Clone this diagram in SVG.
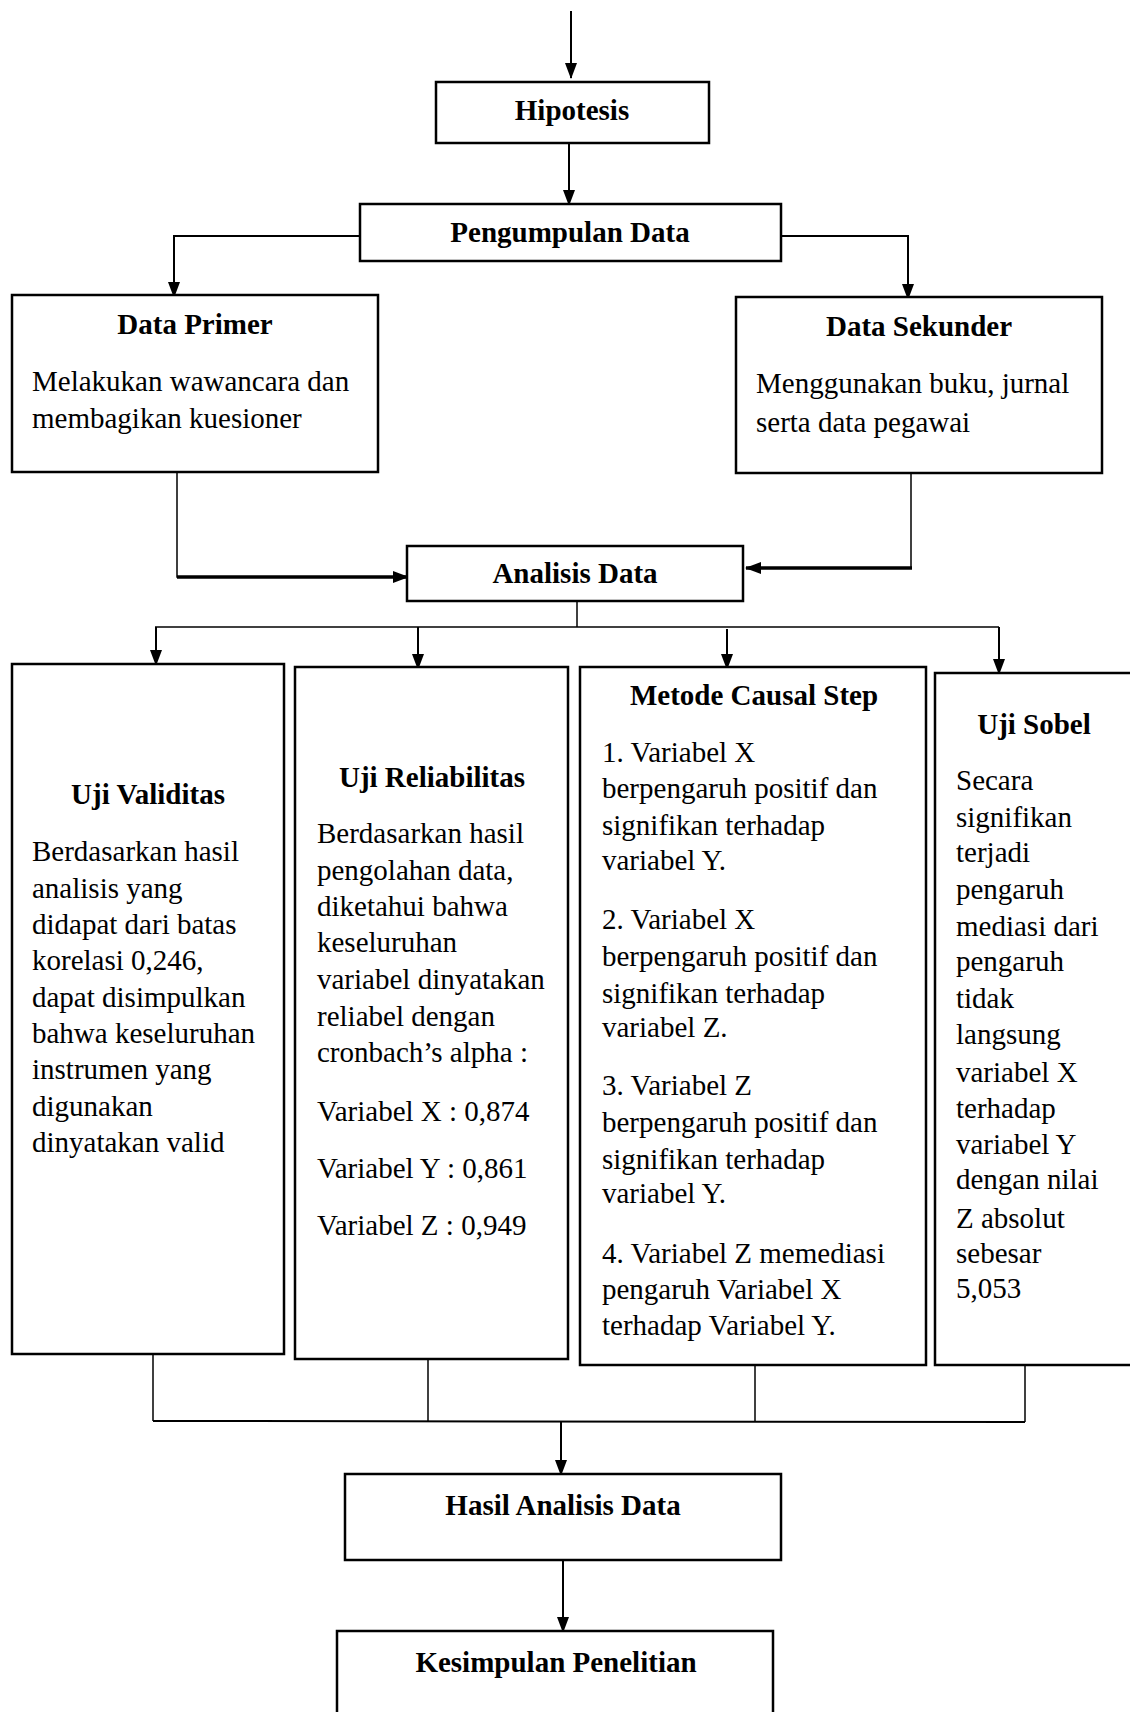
<svg xmlns="http://www.w3.org/2000/svg" width="1130" height="1712" viewBox="0 0 1130 1712">
<style>
.box{fill:#fff;stroke:#000;stroke-width:2.5}
.h{font-family:"Liberation Serif","Times New Roman",serif;font-size:29px;font-weight:bold;text-anchor:middle;fill:#000}
.t{font-family:"Liberation Serif","Times New Roman",serif;font-size:29px;fill:#000}
.ln{fill:none;stroke:#000;stroke-width:1.5}
.ar{fill:none;stroke:#000;stroke-width:2;marker-end:url(#ah)}
.thick{fill:none;stroke:#000;stroke-width:3.5;marker-end:url(#ah)}
</style>
<defs>
<marker id="ah" markerUnits="userSpaceOnUse" markerWidth="16" markerHeight="12" refX="15" refY="6" orient="auto">
<path d="M0,0 L16,6 L0,12 z" fill="#000"/>
</marker>
</defs>
<rect width="1130" height="1712" fill="#fff"/>
<g id="connectors">
<line class="ar" x1="571" y1="11" x2="571" y2="78"/>
<line class="ar" x1="569" y1="143" x2="569" y2="205"/>
<polyline class="ar" points="360,236 174,236 174,297"/>
<polyline class="ar" points="781,236 908,236 908,299"/>
<polyline class="ln" points="177,472 177,577 190,577"/>
<line class="thick" x1="177" y1="577" x2="408" y2="577"/>
<polyline class="ln" points="911,473 911,568"/>
<line class="thick" x1="912" y1="568" x2="746" y2="568"/>
<line class="ln" x1="577" y1="601" x2="577" y2="627"/>
<line class="ln" x1="155" y1="627" x2="999" y2="627"/>
<line class="ar" x1="156" y1="627" x2="156" y2="665"/>
<line class="ar" x1="418" y1="627" x2="418" y2="669"/>
<line class="ar" x1="727" y1="629" x2="727" y2="669"/>
<line class="ar" x1="999" y1="627" x2="999" y2="674"/>
<line class="ln" x1="153" y1="1354" x2="153" y2="1421"/>
<line class="ln" x1="428" y1="1359" x2="428" y2="1421"/>
<line class="ln" x1="755" y1="1365" x2="755" y2="1422"/>
<line class="ln" x1="1025" y1="1365" x2="1025" y2="1422"/>
<line x1="153" y1="1421" x2="1025" y2="1422" stroke="#000" stroke-width="2"/>
<line class="ar" x1="561" y1="1421" x2="561" y2="1475"/>
<line class="ar" x1="563" y1="1561" x2="563" y2="1632"/>
</g>
<g id="hipotesis">
<rect class="box" x="436" y="82" width="273" height="61"/>
<text class="h" x="572" y="120">Hipotesis</text>
</g>
<g id="pengumpulan">
<rect class="box" x="360" y="204" width="421" height="57"/>
<text class="h" x="570" y="242">Pengumpulan Data</text>
</g>
<g id="data-primer">
<rect class="box" x="12" y="295" width="366" height="177"/>
<text class="h" x="195" y="334">Data Primer</text>
<text class="t" x="32" y="391">Melakukan wawancara dan</text>
<text class="t" x="32" y="428">membagikan kuesioner</text>
</g>
<g id="data-sekunder">
<rect class="box" x="736" y="297" width="366" height="176"/>
<text class="h" x="919" y="336">Data Sekunder</text>
<text class="t" x="756" y="393">Menggunakan buku, jurnal</text>
<text class="t" x="756" y="432">serta data pegawai</text>
</g>
<g id="analisis">
<rect class="box" x="407" y="546" width="336" height="55"/>
<text class="h" x="575" y="583">Analisis Data</text>
</g>
<g id="uji-validitas">
<rect class="box" x="12" y="664" width="272" height="690"/>
<text class="h" x="148" y="804">Uji Validitas</text>
<text class="t" x="32" y="861">Berdasarkan hasil</text>
<text class="t" x="32" y="898">analisis yang</text>
<text class="t" x="32" y="934">didapat dari batas</text>
<text class="t" x="32" y="970">korelasi 0,246,</text>
<text class="t" x="32" y="1007">dapat disimpulkan</text>
<text class="t" x="32" y="1043">bahwa keseluruhan</text>
<text class="t" x="32" y="1079">instrumen yang</text>
<text class="t" x="32" y="1116">digunakan</text>
<text class="t" x="32" y="1152">dinyatakan valid</text>
</g>
<g id="uji-reliabilitas">
<rect class="box" x="295" y="667" width="273" height="692"/>
<text class="h" x="432" y="787">Uji Reliabilitas</text>
<text class="t" x="317" y="843">Berdasarkan hasil</text>
<text class="t" x="317" y="880">pengolahan data,</text>
<text class="t" x="317" y="916">diketahui bahwa</text>
<text class="t" x="317" y="952">keseluruhan</text>
<text class="t" x="317" y="989">variabel dinyatakan</text>
<text class="t" x="317" y="1026">reliabel dengan</text>
<text class="t" x="317" y="1062">cronbach’s alpha :</text>
<text class="t" x="317" y="1121">Variabel X : 0,874</text>
<text class="t" x="317" y="1178">Variabel Y : 0,861</text>
<text class="t" x="317" y="1235">Variabel Z : 0,949</text>
</g>
<g id="metode-causal-step">
<rect class="box" x="580" y="667" width="346" height="698"/>
<text class="h" x="754" y="705">Metode Causal Step</text>
<text class="t" x="602" y="762">1. Variabel X</text>
<text class="t" x="602" y="798">berpengaruh positif dan</text>
<text class="t" x="602" y="835">signifikan terhadap</text>
<text class="t" x="602" y="870">variabel Y.</text>
<text class="t" x="602" y="929">2. Variabel X</text>
<text class="t" x="602" y="966">berpengaruh positif dan</text>
<text class="t" x="602" y="1003">signifikan terhadap</text>
<text class="t" x="602" y="1037">variabel Z.</text>
<text class="t" x="602" y="1095">3. Variabel Z</text>
<text class="t" x="602" y="1132">berpengaruh positif dan</text>
<text class="t" x="602" y="1169">signifikan terhadap</text>
<text class="t" x="602" y="1203">variabel Y.</text>
<text class="t" x="602" y="1263">4. Variabel Z memediasi</text>
<text class="t" x="602" y="1299">pengaruh Variabel X</text>
<text class="t" x="602" y="1335">terhadap Variabel Y.</text>
</g>
<g id="uji-sobel">
<rect class="box" x="935" y="673" width="205" height="692"/>
<text class="h" x="1034" y="734">Uji Sobel</text>
<text class="t" x="956" y="790">Secara</text>
<text class="t" x="956" y="827">signifikan</text>
<text class="t" x="956" y="862">terjadi</text>
<text class="t" x="956" y="899">pengaruh</text>
<text class="t" x="956" y="936">mediasi dari</text>
<text class="t" x="956" y="971">pengaruh</text>
<text class="t" x="956" y="1008">tidak</text>
<text class="t" x="956" y="1044">langsung</text>
<text class="t" x="956" y="1082">variabel X</text>
<text class="t" x="956" y="1118">terhadap</text>
<text class="t" x="956" y="1154">variabel Y</text>
<text class="t" x="956" y="1189">dengan nilai</text>
<text class="t" x="956" y="1228">Z absolut</text>
<text class="t" x="956" y="1263">sebesar</text>
<text class="t" x="956" y="1298">5,053</text>
</g>
<g id="hasil-analisis">
<rect class="box" x="345" y="1474" width="436" height="86"/>
<text class="h" x="563" y="1515">Hasil Analisis Data</text>
</g>
<g id="kesimpulan">
<rect class="box" x="337" y="1631" width="436" height="100"/>
<text class="h" x="556" y="1672">Kesimpulan Penelitian</text>
</g>
</svg>
